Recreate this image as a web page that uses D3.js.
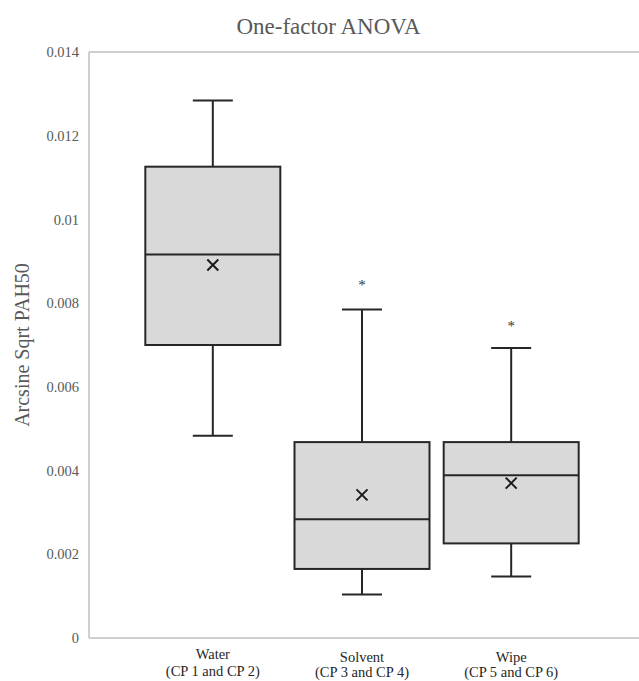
<!DOCTYPE html>
<html>
<head>
<meta charset="utf-8">
<script src="https://cdn.jsdelivr.net/npm/d3@7"></script>
<style>
  body { margin: 0; background: #fff; }
  text { font-family: "Liberation Serif", "Times New Roman", serif; fill: #595959; }
</style>
</head>
<body>
<div id="container"></div>
<script>
// data
var groups = ["Water", "Solvent", "Wipe"];
var groupSub = ["(CP 1 and CP 2)", "(CP 3 and CP 4)", "(CP 5 and CP 6)"];
var whiskerMax = [0.01284, 0.00785, 0.00693];
var q3 = [0.01126, 0.00468, 0.00468];
var median = [0.00916, 0.00284, 0.00389];
var mean = [0.00891, 0.00342, 0.00370];
var q1 = [0.00700, 0.00165, 0.00226];
var whiskerMin = [0.00483, 0.00104, 0.00147];
var starAt = [null, 0.00850, 0.00753];
var yTicks = [0, 0.002, 0.004, 0.006, 0.008, 0.01, 0.012, 0.014];

var width = 639, height = 681;
var margin = {top: 52, right: 3, bottom: 43, left: 89};

var svg = d3.select("#container").append("svg")
    .attr("width", width)
    .attr("height", height);

var x = d3.scalePoint()
    .domain(groups)
    .range([margin.left, 635])
    .padding(0.83);

var y = d3.scaleLinear()
    .domain([0, 0.014])
    .range([height - margin.bottom, margin.top]);

var boxW = 135, capW = 40;

// frame
var frame = svg.append("g").attr("stroke", "#bfbfbf").attr("stroke-width", 1.5);
frame.append("line").attr("x1", margin.left).attr("x2", width).attr("y1", y(0.014)).attr("y2", y(0.014));
frame.append("line").attr("x1", margin.left).attr("x2", width).attr("y1", y(0)).attr("y2", y(0));
frame.append("line").attr("x1", margin.left).attr("x2", margin.left).attr("y1", y(0.014)).attr("y2", y(0));

// y axis labels
var yAxis = d3.axisLeft(y)
    .tickValues(yTicks)
    .tickSize(0)
    .tickPadding(10)
    .tickFormat(function(d) { return d === 0 ? "0" : String(+d.toFixed(3)); });

svg.append("g")
    .attr("transform", "translate(" + margin.left + ",0)")
    .call(yAxis)
    .call(function(g) { g.select(".domain").remove(); })
    .selectAll("text")
    .style("font-size", "14.5px")
    .style("fill", "#595959");

// boxes
var box = svg.append("g").selectAll("g.box")
    .data(groups)
    .enter().append("g")
    .attr("class", "box");

box.append("line")
    .attr("x1", function(d) { return x(d); })
    .attr("x2", function(d) { return x(d); })
    .attr("y1", function(d, i) { return y(whiskerMax[i]); })
    .attr("y2", function(d, i) { return y(whiskerMin[i]); })
    .attr("stroke", "#262626").attr("stroke-width", 2);

box.append("line")
    .attr("x1", function(d) { return x(d) - capW / 2; })
    .attr("x2", function(d) { return x(d) + capW / 2; })
    .attr("y1", function(d, i) { return y(whiskerMax[i]); })
    .attr("y2", function(d, i) { return y(whiskerMax[i]); })
    .attr("stroke", "#262626").attr("stroke-width", 2);

box.append("line")
    .attr("x1", function(d) { return x(d) - capW / 2; })
    .attr("x2", function(d) { return x(d) + capW / 2; })
    .attr("y1", function(d, i) { return y(whiskerMin[i]); })
    .attr("y2", function(d, i) { return y(whiskerMin[i]); })
    .attr("stroke", "#262626").attr("stroke-width", 2);

box.append("rect")
    .attr("x", function(d) { return x(d) - boxW / 2; })
    .attr("width", boxW)
    .attr("y", function(d, i) { return y(q3[i]); })
    .attr("height", function(d, i) { return y(q1[i]) - y(q3[i]); })
    .attr("fill", "#d9d9d9")
    .attr("stroke", "#262626").attr("stroke-width", 2);

box.append("line")
    .attr("x1", function(d) { return x(d) - boxW / 2; })
    .attr("x2", function(d) { return x(d) + boxW / 2; })
    .attr("y1", function(d, i) { return y(median[i]); })
    .attr("y2", function(d, i) { return y(median[i]); })
    .attr("stroke", "#262626").attr("stroke-width", 2);

// mean marker (x)
box.append("path")
    .attr("transform", function(d, i) { return "translate(" + x(d) + "," + y(mean[i]) + ")"; })
    .attr("d", "M-5.5,-5.5L5.5,5.5M-5.5,5.5L5.5,-5.5")
    .attr("stroke", "#1a1a1a").attr("stroke-width", 2).attr("fill", "none");

// significance stars
svg.append("g").selectAll("text")
    .data(groups.filter(function(d, i) { return starAt[i] !== null; }))
    .enter().append("text")
    .attr("x", function(d) { return x(d); })
    .attr("y", function(d) { return y(starAt[groups.indexOf(d)]) + 8; })
    .attr("text-anchor", "middle")
    .style("font-size", "15px")
    .style("fill", "#333")
    .text("*");

// category labels
var xl = svg.append("g").selectAll("text")
    .data(groups)
    .enter().append("text")
    .attr("text-anchor", "middle")
    .style("font-size", "14.5px")
    .style("fill", "#262626")
    .attr("transform", function(d, i) { return "translate(" + x(d) + "," + (i === 0 ? 659 : 662) + ")"; });

xl.append("tspan").attr("x", 0).attr("dy", 0).text(function(d) { return d; });
xl.append("tspan").attr("x", 0).attr("dy", function(d, i) { return i === 0 ? 17 : 15; }).text(function(d, i) { return groupSub[i]; });

// title
svg.append("text")
    .attr("x", (margin.left + 568) / 2)
    .attr("y", 34)
    .attr("text-anchor", "middle")
    .style("font-size", "23px")
    .text("One-factor ANOVA");

// y axis title
svg.append("text")
    .attr("transform", "translate(29," + 345 + ")rotate(-90)")
    .attr("text-anchor", "middle")
    .style("font-size", "20px")
    .text("Arcsine Sqrt PAH50");
</script>
</body>
</html>
